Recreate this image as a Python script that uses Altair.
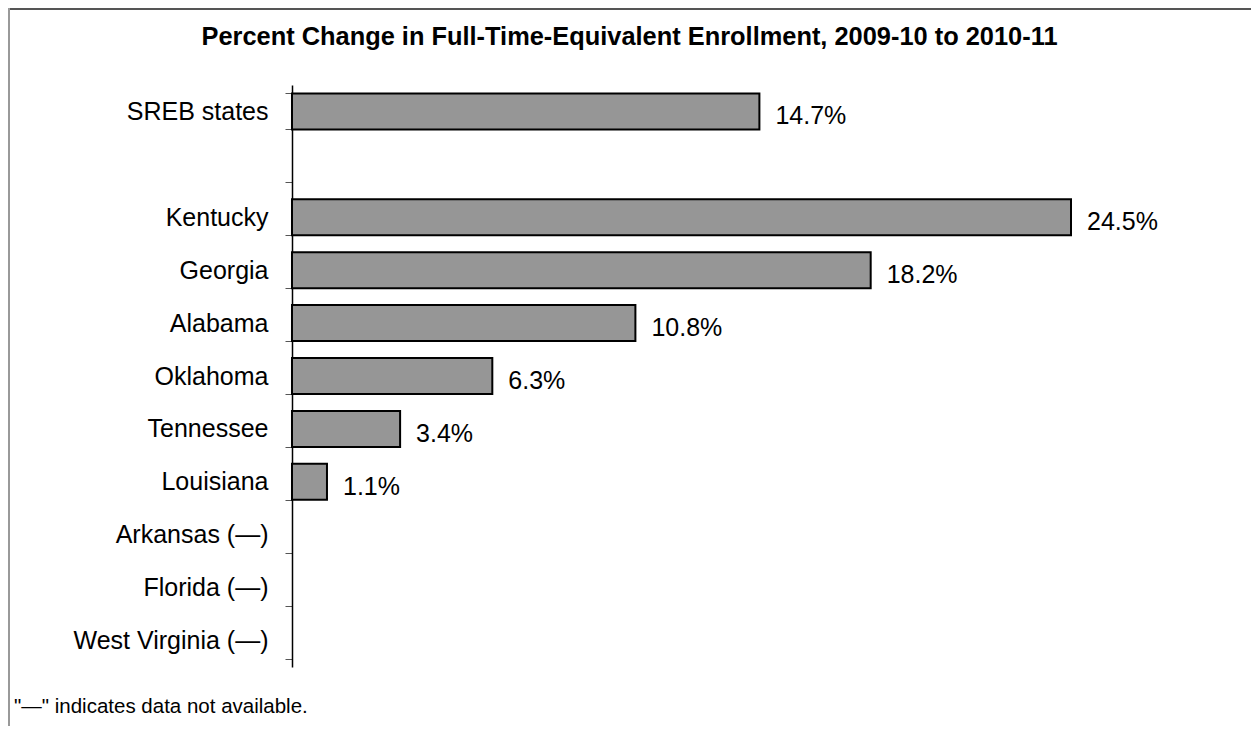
import altair as alt
import pandas as pd

categories = ["SREB states", " ", "Kentucky", "Georgia", "Alabama", "Oklahoma",
              "Tennessee", "Louisiana", "Arkansas (—)", "Florida (—)", "West Virginia (—)"]
values = [14.7, None, 24.5, 18.2, 10.8, 6.3, 3.4, 1.1, None, None, None]
labels = ["14.7%", "", "24.5%", "18.2%", "10.8%", "6.3%", "3.4%", "1.1%", "", "", ""]
title_text = ["Percent Change in Full-Time-Equivalent Enrollment, 2009-10 to 2010-11"]
footnote = ['"—" indicates data not available.']

df = pd.DataFrame({"state": categories, "pct": values, "label": labels})

W, H = 1243, 718
FONT = "Liberation Sans"

y_enc = alt.Y(
    "state:N",
    sort=categories,
    scale=alt.Scale(domain=categories, range=[77, 659], paddingInner=0.32, paddingOuter=0.16),
    axis=alt.Axis(
        orient="left", offset=-284, title=None, grid=False,
        domainColor="black", domainWidth=1.5,
        tickColor="#555555", tickSize=7, tickWidth=1, tickBand="extent",
        labelFont=FONT, labelFontSize=25, labelColor="black",
        labelPadding=17, labelLimit=400,
    ),
)
x_enc = alt.X(
    "pct:Q",
    scale=alt.Scale(domain=[0, 24.5], range=[284, 1063], nice=False, zero=False),
    axis=None,
)

base = alt.Chart(df).transform_filter("datum.pct != null")

bars = base.mark_bar(fill="#969696", stroke="black", strokeWidth=2).encode(x=x_enc, y=y_enc)
texts = base.mark_text(align="left", baseline="middle", dx=16, dy=5,
                       font=FONT, fontSize=25, color="black").encode(
    x=x_enc, y=y_enc, text="label:N")

one = pd.DataFrame({"k": [0]})
top_border = alt.Chart(one).mark_rule(color="#555555", strokeWidth=2).encode(
    x=alt.value(0), x2=alt.value(W), y=alt.value(1))
left_border = alt.Chart(one).mark_rule(color="#999999", strokeWidth=2).encode(
    x=alt.value(1), y=alt.value(0), y2=alt.value(H))

title = alt.Chart(pd.DataFrame({"t": title_text})).mark_text(
    font=FONT, fontSize=25.4, fontWeight="bold", color="black",
    align="center", baseline="alphabetic").encode(
    x=alt.value(621.5), y=alt.value(37), text="t:N")

foot = alt.Chart(pd.DataFrame({"t": footnote})).mark_text(
    font=FONT, fontSize=20.5, color="black",
    align="left", baseline="alphabetic").encode(
    x=alt.value(6), y=alt.value(705), text="t:N")

chart = alt.layer(top_border, left_border, title, bars, texts, foot).properties(
    width=W, height=H, padding=0,
    autosize=alt.AutoSizeParams(type="none"),
).configure_view(stroke="transparent")

chart.save("out.html", embed_options={"renderer": "svg", "actions": False})
